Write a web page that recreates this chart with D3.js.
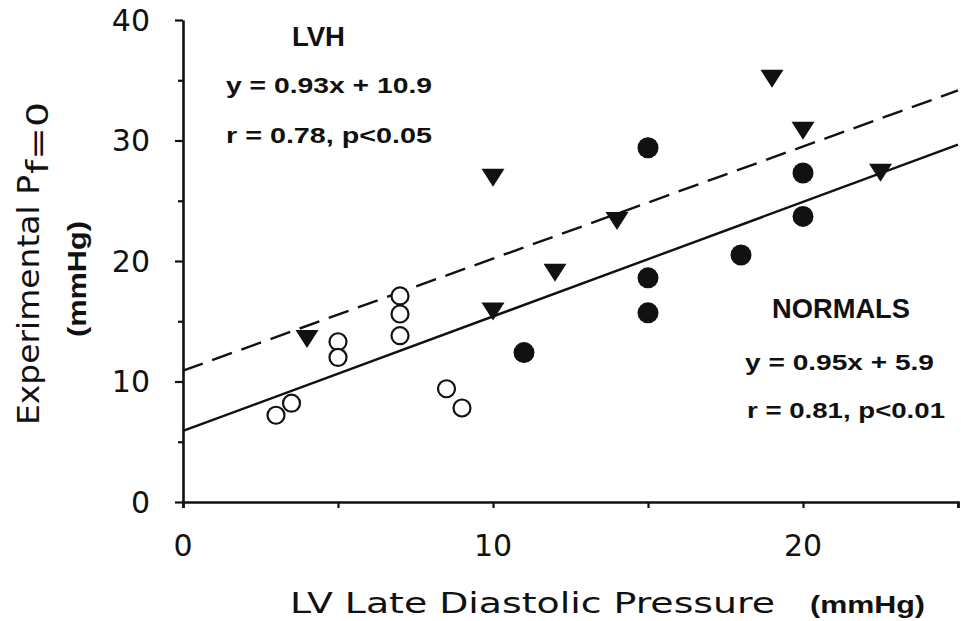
<!DOCTYPE html>
<html>
<head>
<meta charset="utf-8">
<script src="https://cdn.jsdelivr.net/npm/d3@7/dist/d3.min.js"></script>
<style>
  html, body { margin: 0; padding: 0; background: #fff; }
  svg { display: block; }
</style>
</head>
<body>
<div id="chart"></div>
<script>
// LV late diastolic pressure (x) vs experimental P(f=0) (y), both mmHg
const normalsOpenX = [3, 3.5, 5, 5, 7, 7, 7, 8.5, 9];
const normalsOpenY = [7.2, 8.2, 13.3, 12.0, 13.8, 15.6, 17.1, 9.4, 7.8];

const normalsFilledX = [11, 15, 15, 15, 18, 20, 20];
const normalsFilledY = [12.4, 29.4, 18.6, 15.7, 20.5, 27.3, 23.7];

const lvhX = [4, 10, 10, 12, 14, 19, 20, 22.5];
const lvhY = [13.6, 27.0, 15.9, 19.1, 23.4, 35.2, 30.9, 27.4];

// regression fits: [slope, intercept]
const lvhFit = [0.93, 10.9];
const normalFit = [0.95, 5.9];

const xTickLabels = [0, 10, 20];
const yTickLabels = [0, 10, 20, 30, 40];

const W = 961, H = 621;
const svg = d3.select("#chart").append("svg")
  .attr("width", W).attr("height", H);

const x = d3.scaleLinear().domain([0, 25]).range([183, 958]);
const y = d3.scaleLinear().domain([0, 40]).range([502, 20]);

const axisFont = "'DejaVu Sans', sans-serif";
const noteFont = "'Liberation Sans', Arial, sans-serif";

// regression lines
function fitLine(fit) {
  return d3.line().x(d => x(d)).y(d => y(fit[0] * d + fit[1]))([0, 25]);
}
svg.append("path").attr("d", fitLine(lvhFit))
  .attr("fill", "none").attr("stroke", "#111").attr("stroke-width", 2.4)
  .attr("stroke-dasharray", "21,10");
svg.append("path").attr("d", fitLine(normalFit))
  .attr("fill", "none").attr("stroke", "#111").attr("stroke-width", 2.4);

// axes
const yAxis = d3.axisLeft(y).tickValues(d3.range(0, 41, 5))
  .tickFormat("").tickSizeOuter(0);
const gy = svg.append("g").attr("transform", `translate(${x(0)},0)`).call(yAxis);
gy.select(".domain").attr("stroke", "#111").attr("stroke-width", 2.6);
gy.selectAll(".tick line").attr("stroke", "#111").attr("stroke-width", 2.2)
  .attr("x2", d => d % 10 === 0 ? -8 : -5);

const xAxis = d3.axisBottom(x).tickValues(d3.range(0, 26, 5))
  .tickFormat("").tickSizeOuter(0).tickSize(6);
const gx = svg.append("g").attr("transform", `translate(0,${y(0)})`).call(xAxis);
gx.select(".domain").attr("stroke", "#111").attr("stroke-width", 2.6);
gx.selectAll(".tick line").attr("stroke", "#111").attr("stroke-width", 2.2);

// tick labels
svg.append("g").selectAll("text").data(yTickLabels).join("text")
  .attr("x", 150).attr("y", d => y(d)).attr("dy", "0.36em")
  .attr("text-anchor", "end").attr("font-family", axisFont)
  .attr("font-size", 30).attr("fill", "#111").text(d => d);

svg.append("g").selectAll("text").data(xTickLabels).join("text")
  .attr("x", d => x(d)).attr("y", 556)
  .attr("text-anchor", "middle").attr("font-family", axisFont)
  .attr("font-size", 30).attr("fill", "#111").text(d => d);

// axis titles
svg.append("text").attr("x", 290).attr("y", 613)
  .attr("font-family", axisFont).attr("font-size", 29).attr("fill", "#111")
  .attr("textLength", 485).attr("lengthAdjust", "spacingAndGlyphs")
  .text("LV Late Diastolic Pressure");
svg.append("text").attr("x", 810).attr("y", 613)
  .attr("font-family", noteFont).attr("font-weight", "bold")
  .attr("font-size", 24).attr("fill", "#111")
  .attr("textLength", 115).attr("lengthAdjust", "spacingAndGlyphs")
  .text("(mmHg)");

svg.append("text")
  .attr("transform", "translate(39,425) rotate(-90)")
  .attr("font-family", axisFont).attr("font-size", 30).attr("fill", "#111")
  .attr("textLength", 250).attr("lengthAdjust", "spacingAndGlyphs")
  .text("Experimental P");
svg.append("text")
  .attr("transform", "translate(48,174) rotate(-90)")
  .attr("font-family", axisFont).attr("font-size", 30).attr("fill", "#111")
  .attr("textLength", 72).attr("lengthAdjust", "spacingAndGlyphs")
  .text("f=0");

svg.append("text")
  .attr("transform", "translate(86,279) rotate(-90)")
  .attr("text-anchor", "middle")
  .attr("font-family", noteFont).attr("font-weight", "bold")
  .attr("font-size", 25).attr("fill", "#111")
  .attr("textLength", 116).attr("lengthAdjust", "spacingAndGlyphs")
  .text("(mmHg)");

// annotations
function note(tx, ty, str, len, size) {
  svg.append("text").attr("x", tx).attr("y", ty)
    .attr("font-family", noteFont).attr("font-weight", "bold")
    .attr("font-size", size).attr("fill", "#111")
    .attr("textLength", len).attr("lengthAdjust", "spacingAndGlyphs")
    .text(str);
}
note(292, 46, "LVH", 53, 27);
note(226, 93, "y = 0.93x + 10.9", 206, 22);
note(226, 143, "r = 0.78,  p<0.05", 206, 22);
note(772, 318, "NORMALS", 138, 28);
note(745, 370, "y = 0.95x + 5.9", 189, 22);
note(747, 418, "r = 0.81,  p<0.01", 198, 22);

// markers
const open = normalsOpenX.map((v, i) => [v, normalsOpenY[i]]);
const filled = normalsFilledX.map((v, i) => [v, normalsFilledY[i]]);
const lvh = lvhX.map((v, i) => [v, lvhY[i]]);

svg.append("g").selectAll("circle").data(open).join("circle")
  .attr("cx", d => x(d[0])).attr("cy", d => y(d[1])).attr("r", 8.5)
  .attr("fill", "#fff").attr("stroke", "#111").attr("stroke-width", 2.2);

svg.append("g").selectAll("circle").data(filled).join("circle")
  .attr("cx", d => x(d[0])).attr("cy", d => y(d[1])).attr("r", 10.5)
  .attr("fill", "#111");

const tri = "M-11.5,-8 L11.5,-8 L0,10 Z";
svg.append("g").selectAll("path").data(lvh).join("path")
  .attr("transform", d => `translate(${x(d[0])},${y(d[1])})`)
  .attr("d", tri).attr("fill", "#111");
</script>
</body>
</html>
